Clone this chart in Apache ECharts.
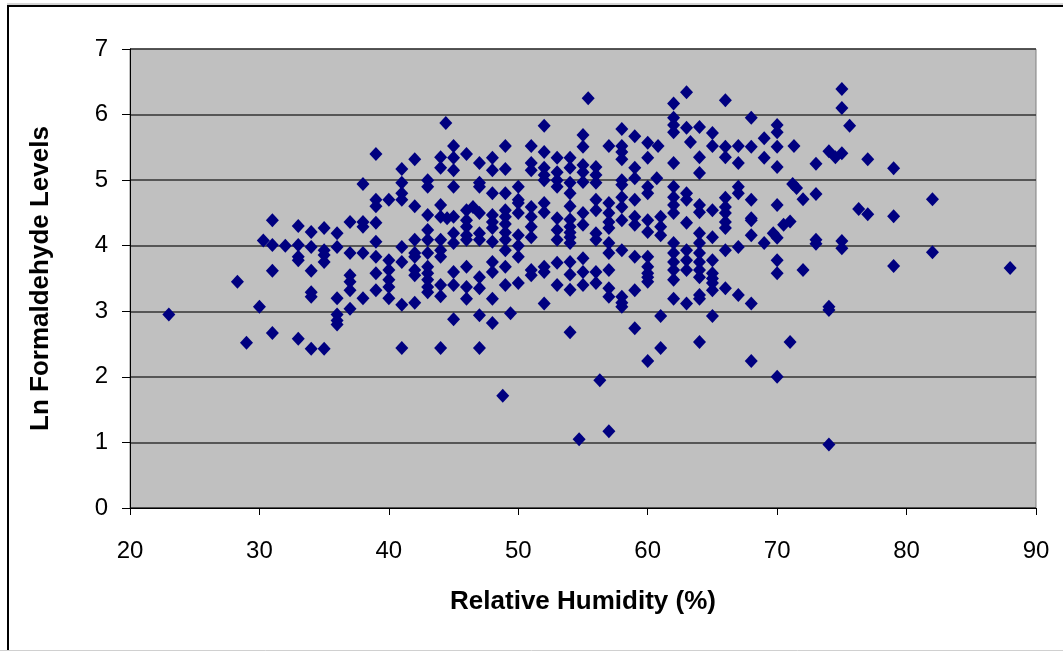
<!DOCTYPE html>
<html>
<head>
<meta charset="utf-8">
<script src="https://cdn.jsdelivr.net/npm/echarts@6/dist/echarts.min.js"></script>
<style>
html,body{margin:0;padding:0;background:#fff;}
#chart{width:1063px;height:651px;}
</style>
</head>
<body>
<div id="chart"></div>
<script>
// Relative humidity (%) columns and the Ln formaldehyde readings observed at each
const rh = [
  23, 28.3, 29, 30, 30.3, 31, 32, 33, 34, 35,
  36, 37, 38, 39, 40, 41, 42, 43, 44, 44.4,
  44.5, 45, 46, 46.5, 47, 48, 48.8, 49, 49.4, 50,
  51, 52, 53, 54, 54.7, 55, 55.4, 56, 56.3, 57,
  58, 59, 60, 60.7, 60.8, 61, 62, 63, 63.3, 64,
  65, 66, 67, 68, 69, 69.7, 70, 70.5, 71, 71.2,
  71.3, 71.5, 72, 73, 74, 74.5, 75, 75.6, 76.3, 77,
  79, 82, 88
];
const lnHCHO = [
  [2.95], [3.45], [2.52], [3.07], [4.08],
  [4.39, 4.01, 3.62, 2.67],
  [4.0],
  [4.3, 4.01, 3.83, 3.78, 2.58],
  [4.21, 3.98, 3.62, 3.29, 3.22, 2.43],
  [4.27, 3.93, 3.86, 3.75, 2.43],
  [4.19, 3.98, 3.2, 2.95, 2.86, 2.8],
  [4.36, 3.89, 3.55, 3.45, 3.32, 3.04],
  [4.94, 4.36, 4.29, 3.89, 3.2],
  [5.4, 4.7, 4.6, 4.35, 4.06, 3.83, 3.58, 3.32],
  [4.7, 3.78, 3.63, 3.48, 3.37, 3.2],
  [5.17, 4.96, 4.8, 4.7, 3.98, 3.75, 3.1, 2.44],
  [5.32, 4.6, 4.09, 3.89, 3.83, 3.63, 3.55, 3.13],
  [5.0, 4.9, 4.47, 4.24, 4.09, 3.89, 3.68, 3.58, 3.48, 3.37, 3.29],
  [5.35, 5.19, 4.62, 4.44, 4.09, 3.93, 3.83, 3.4, 3.23, 2.44],
  [5.87],
  [4.42],
  [5.52, 5.34, 5.15, 4.9, 4.44, 4.19, 4.04, 3.6, 3.4, 2.88],
  [5.4, 4.54, 4.39, 4.29, 4.16, 4.09, 3.68, 3.37, 3.19],
  [4.59],
  [5.26, 4.96, 4.9, 4.5, 4.19, 4.09, 3.52, 3.35, 2.94, 2.44],
  [5.34, 5.15, 4.8, 4.47, 4.36, 4.27, 4.06, 3.75, 3.6, 3.19, 2.82],
  [1.71],
  [5.52, 5.17, 4.8, 4.54, 4.44, 4.33, 4.2, 4.09, 3.93, 3.68, 3.4],
  [2.97],
  [4.9, 4.7, 4.65, 4.5, 4.16, 4.0, 3.83, 3.43],
  [5.52, 5.26, 5.15, 4.59, 4.44, 4.29, 4.13, 3.63, 3.55],
  [5.83, 5.43, 5.19, 5.08, 5.0, 4.65, 4.51, 3.68, 3.6, 3.12],
  [5.34, 5.12, 5.0, 4.9, 4.42, 4.24, 4.09, 3.74, 3.4],
  [5.34, 5.19, 4.96, 4.8, 4.6, 4.4, 4.29, 4.2, 4.13, 4.04, 3.75, 3.56, 3.33, 2.68],
  [1.05],
  [5.69, 5.51, 5.23, 5.12, 4.97, 4.5, 4.32, 3.81, 3.6, 3.4],
  [6.25],
  [5.2, 5.08, 4.96, 4.7, 4.54, 4.19, 4.09, 3.6, 3.43],
  [1.95],
  [5.52, 4.65, 4.5, 4.36, 4.27, 4.04, 3.89, 3.63, 3.35, 3.22, 1.17],
  [5.78, 5.52, 5.43, 5.32, 5.0, 4.93, 4.74, 4.59, 4.39, 3.93, 3.22, 3.13, 3.07],
  [5.67, 5.19, 5.03, 4.7, 4.44, 4.32, 3.83, 3.32, 2.74],
  [5.57, 5.34, 4.9, 4.8, 4.39, 4.21, 3.83, 3.68, 3.58, 3.52, 3.45, 2.24],
  [5.03],
  [5.52],
  [4.44, 4.29, 4.16, 2.93, 2.44],
  [6.17, 5.95, 5.84, 5.73, 5.26, 4.9, 4.74, 4.62, 4.5, 4.04, 3.89, 3.75, 3.63, 3.48, 3.19],
  [6.34, 5.8, 4.8, 4.7, 4.35, 3.93, 3.78, 3.63, 3.12],
  [5.58],
  [5.81, 5.35, 5.11, 4.62, 4.51, 4.19, 4.04, 3.89, 3.75, 3.63, 3.52, 3.25, 3.19, 2.53],
  [5.72, 5.52, 4.54, 4.13, 3.78, 3.58, 3.5, 3.43, 3.32, 2.93],
  [6.22, 5.51, 5.35, 4.73, 4.59, 4.5, 4.36, 4.27, 3.93, 3.35],
  [5.52, 5.26, 4.9, 4.8, 3.98, 3.25],
  [5.95, 5.51, 4.7, 4.42, 4.39, 4.16, 3.12, 2.24],
  [5.64, 5.34, 4.04],
  [4.19],
  [5.84, 5.73, 5.51, 5.2, 4.62, 4.12, 3.78, 3.58, 2.0],
  [4.32],
  [4.37, 2.53],
  [4.94],
  [5.52],
  [4.88],
  [4.71, 3.63],
  [5.25, 4.79, 4.09, 4.03],
  [5.44, 3.07, 3.02, 0.97],
  [5.35],
  [6.39, 6.1, 5.41, 4.07, 3.96],
  [5.83],
  [4.56],
  [5.32, 4.48],
  [5.18, 4.45, 3.69],
  [4.71, 3.9],
  [3.66]
];
const xTicks = [20, 30, 40, 50, 60, 70, 80, 90];
const yTicks = [0, 1, 2, 3, 4, 5, 6, 7];

const points = [];
rh.forEach((h, i) => lnHCHO[i].forEach(v => points.push([h, v])));

const chart = echarts.init(document.getElementById('chart'), null, {renderer: 'canvas'});
const font = 'Liberation Sans, Arial, sans-serif';
chart.setOption({
  animation: false,
  backgroundColor: '#fff',
  grid: {
    left: 130, top: 49, right: 27, bottom: 143,
    show: true, backgroundColor: '#C0C0C0', borderColor: '#808080', borderWidth: 1
  },
  xAxis: {
    type: 'value',
    min: xTicks[0], max: xTicks[xTicks.length - 1], interval: 10,
    name: 'Relative Humidity (%)', nameLocation: 'middle', nameGap: 81,
    nameTextStyle: {fontFamily: font, fontSize: 26, fontWeight: 'bold', color: '#000'},
    axisLine: {show: true, onZero: false, lineStyle: {color: '#000', width: 1}},
    axisTick: {show: true, inside: false, length: 7, lineStyle: {color: '#000'}},
    axisLabel: {fontFamily: font, fontSize: 24, color: '#000', margin: 31},
    splitLine: {show: false}
  },
  yAxis: {
    type: 'value',
    min: yTicks[0], max: yTicks[yTicks.length - 1], interval: 1,
    name: 'Ln Formaldehyde Levels', nameLocation: 'middle', nameGap: 76,
    nameTextStyle: {fontFamily: font, fontSize: 26, fontWeight: 'bold', color: '#000'},
    axisLine: {show: true, onZero: false, lineStyle: {color: '#000', width: 1}},
    axisTick: {show: true, inside: false, length: 8, lineStyle: {color: '#000'}},
    axisLabel: {fontFamily: font, fontSize: 24, color: '#000', margin: 22},
    splitLine: {show: true, lineStyle: {color: '#333', width: 1.5}}
  },
  series: [{
    type: 'scatter',
    data: points,
    symbol: 'diamond',
    symbolSize: [13, 14],
    itemStyle: {color: '#000080', opacity: 1},
    z: 3
  }],
  graphic: [
    {type: 'line', shape: {x1: 7, y1: 4, x2: 1063, y2: 4}, style: {stroke: '#aaa', lineWidth: 1}, silent: true},
    {type: 'line', shape: {x1: 7, y1: 6, x2: 1063, y2: 6}, style: {stroke: '#000', lineWidth: 2}, silent: true},
    {type: 'line', shape: {x1: 8, y1: 5, x2: 8, y2: 651}, style: {stroke: '#000', lineWidth: 2}, silent: true},
    {type: 'line', shape: {x1: 0, y1: 650.5, x2: 1063, y2: 650.5}, style: {stroke: '#d0d0d0', lineWidth: 1}, silent: true}
  ]
});
</script>
</body>
</html>
